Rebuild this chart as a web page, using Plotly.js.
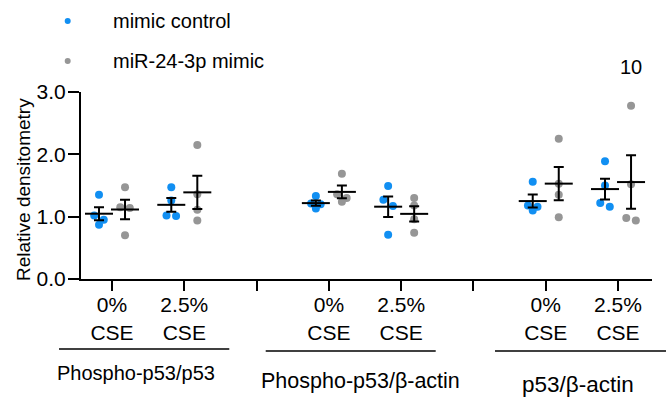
<!DOCTYPE html>
<html>
<head>
<meta charset="utf-8">
<script src="https://cdn.plot.ly/plotly-3.0.1.min.js"></script>
<style>html,body{margin:0;padding:0;background:#fff;}#chart{width:671px;height:399px;}</style>
</head>
<body>
<div id="chart"></div>
<script>
// ---- data ----
const conditions = ['0%<br>CSE', '2.5%<br>CSE'];
const panels = ['Phospho-p53/p53', 'Phospho-p53/β-actin', 'p53/β-actin'];
const seriesNames = ['mimic control', 'miR-24-3p mimic'];
// each panel: [0% CSE values, 2.5% CSE values]
const phosphoP53_p53_control = [[1.35, 1.02, 0.95, 0.87], [1.47, 1.26, 1.02, 1.01]];
const phosphoP53_p53_mimic   = [[1.47, 1.15, 1.14, 0.70], [2.15, 1.36, 1.11, 0.94]];
const phosphoP53_actin_control = [[1.33, 1.21, 1.20, 1.13], [1.49, 1.27, 1.17, 0.71]];
const phosphoP53_actin_mimic   = [[1.69, 1.36, 1.30, 1.24], [1.30, 1.18, 0.96, 0.74]];
const p53_actin_control = [[1.56, 1.18, 1.16, 1.10], [1.89, 1.50, 1.22, 1.16]];
const p53_actin_mimic   = [[2.25, 1.53, 1.35, 0.99], [2.78, 1.52, 0.98, 0.94]];
const yTicks = [0, 1, 2, 3];
const yTitle = 'Relative densitometry';
const noteText = '10';

// ---- layout helpers ----
const controlSets = [phosphoP53_p53_control, phosphoP53_actin_control, p53_actin_control];
const mimicSets = [phosphoP53_p53_mimic, phosphoP53_actin_mimic, p53_actin_mimic];
const colors = ['#118ff2', '#969696'];
const seriesShift = [-0.18, 0.18];
const SPREAD = 0.066, CLOSE = 0.112;
const font = 'Liberation Sans, Arial, sans-serif';

function spread(vals) {
  const idx = vals.map((v, i) => i).sort((a, b) => vals[b] - vals[a]);
  const off = vals.map(() => 0);
  const pattern = [-1, 1, 0, -2, 2, -3, 3];
  let cluster = [idx[0]];
  const flush = () => { if (cluster.length > 1) cluster.forEach((k, j) => off[k] = pattern[j] * SPREAD); };
  for (let j = 1; j < idx.length; j++) {
    if (vals[idx[j - 1]] - vals[idx[j]] < CLOSE) cluster.push(idx[j]);
    else { flush(); cluster = [idx[j]]; }
  }
  flush();
  return off;
}
const mean = a => a.reduce((s, v) => s + v, 0) / a.length;
const sem = a => { const m = mean(a); return Math.sqrt(a.reduce((s, v) => s + (v - m) ** 2, 0) / (a.length - 1)) / Math.sqrt(a.length); };

const traces = [];
const meanTraces = [];
[controlSets, mimicSets].forEach((sets, s) => {
  const px = [], py = [], mx = [], my = [], me = [];
  sets.forEach((panel, p) => {
    panel.forEach((vals, c) => {
      const base = p * 3 + c + seriesShift[s];
      const off = spread(vals);
      vals.forEach((v, i) => { px.push(base + off[i]); py.push(v); });
      mx.push(base); my.push(mean(vals)); me.push(sem(vals));
    });
  });
  traces.push({ type: 'scatter', mode: 'markers', name: seriesNames[s], x: px, y: py, showlegend: false,
    cliponaxis: false, marker: { size: 8, color: colors[s] }, hoverinfo: 'skip' });
  meanTraces.push({ type: 'scatter', mode: 'markers', x: mx, y: my, showlegend: false, cliponaxis: false,
    marker: { symbol: 'line-ew', size: 20, line: { width: 2, color: '#000' } },
    error_y: { type: 'data', array: me, visible: true, color: '#000', thickness: 2, width: 5 } });
});

const tickvals = [], ticktext = [];
for (let k = 0; k < 8; k++) { tickvals.push(k); ticktext.push(k % 3 === 2 ? '' : conditions[k % 3]); }

// group underline positions (paper coordinates)
const groupLines = [[-0.0385, 0.2597, -0.374], [0.3235, 0.6212, -0.385], [0.7250, 1.0245, -0.385]];
const groupLabelPos = [[0.336, -0.500, 20], [3.44, -0.548, 21.5], [6.44, -0.562, 22.5]];
const legendRows = [1.3797, 1.1658];

const shapes = groupLines.map(g => ({ type: 'line', xref: 'paper', yref: 'paper', x0: g[0], x1: g[1], y0: g[2], y1: g[2],
  line: { color: '#000', width: 1.5 } }))
  .concat(seriesNames.map((n, s) => ({ type: 'circle', xref: 'paper', yref: 'paper',
    xsizemode: 'pixel', ysizemode: 'pixel', xanchor: -0.0233, yanchor: legendRows[s],
    x0: -3, x1: 3, y0: -3, y1: 3, fillcolor: colors[s], line: { width: 0 } })));

const annotations = panels.map((t, i) => ({ text: t, xref: 'x', yref: 'paper', x: groupLabelPos[i][0], y: groupLabelPos[i][1],
  xanchor: 'center', yanchor: 'middle', showarrow: false, font: { size: groupLabelPos[i][2], family: font } }))
  .concat(seriesNames.map((n, s) => ({ text: n, xref: 'paper', yref: 'paper', x: 0.052, y: legendRows[s],
    xanchor: 'left', yanchor: 'middle', showarrow: false, font: { size: 20, family: font } })))
  .concat([
    { text: noteText, xref: 'x', yref: 'paper', x: 7 + seriesShift[1], y: 1.134, xanchor: 'center', yanchor: 'middle',
      showarrow: false, font: { size: 20, family: font } },
    { text: yTitle, xref: 'paper', yref: 'paper', x: -0.0998, y: 0.476, xanchor: 'center', yanchor: 'middle',
      textangle: -90, showarrow: false, font: { size: 19, family: font } }
  ]);

const layout = {
  width: 671, height: 399,
  margin: { l: 81, r: 19, t: 92, b: 120 },
  paper_bgcolor: '#fff', plot_bgcolor: '#fff',
  font: { family: font, color: '#000', size: 20 },
  showlegend: false,
  xaxis: { range: [-0.429, 7.47], tickvals: tickvals, ticktext: ticktext, showline: true, linewidth: 2,
    linecolor: '#000', ticks: 'outside', ticklen: 10, tickwidth: 2, tickcolor: '#000', showgrid: false,
    zeroline: false, tickfont: { size: 21, family: font }, ticklabelstandoff: -4, fixedrange: true, automargin: false },
  yaxis: { range: [0, 3], tickvals: yTicks, tickformat: '.1f', showline: true, linewidth: 2,
    linecolor: '#000', ticks: 'outside', ticklen: 11, tickwidth: 2, tickcolor: '#000', showgrid: false,
    zeroline: false, tickfont: { size: 21, family: font }, ticklabelstandoff: -2, fixedrange: true, automargin: false },
  shapes: shapes,
  annotations: annotations
};

Plotly.newPlot('chart', traces.concat(meanTraces), layout, { displayModeBar: false, staticPlot: true });
</script>
</body>
</html>
